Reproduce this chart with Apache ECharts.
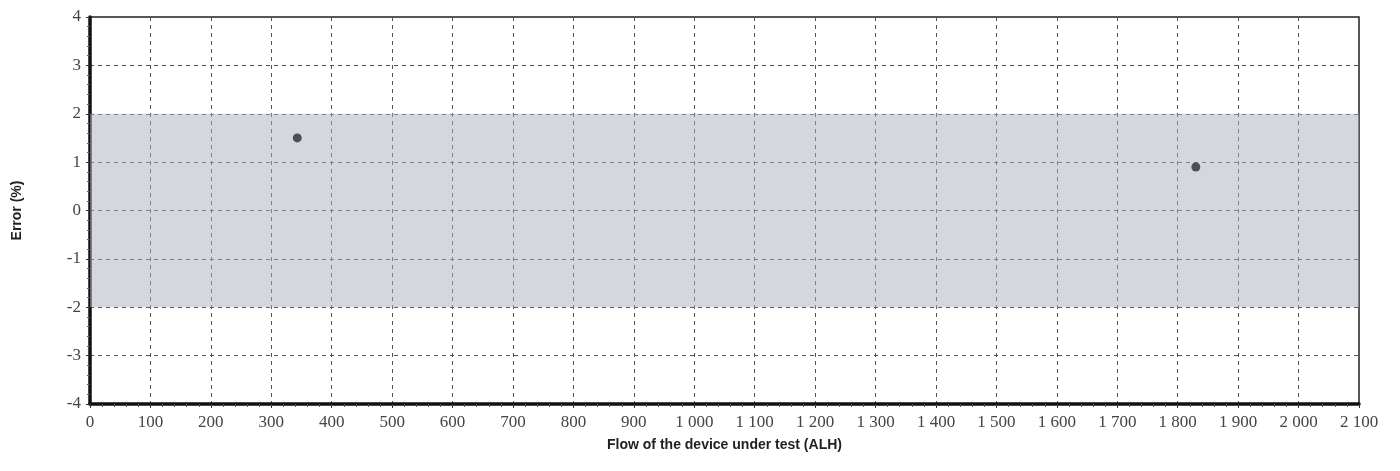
<!DOCTYPE html>
<html>
<head>
<meta charset="utf-8">
<title>Error vs flow</title>
<script src="https://cdn.jsdelivr.net/npm/echarts@6/dist/echarts.min.js"></script>
<style>
  html, body { margin: 0; padding: 0; background: #fff; }
  #chart { width: 1400px; height: 471px; }
</style>
</head>
<body>
<div id="chart"></div>
<script>
// measured points: flow (ALH), error (%)
const flowValues = [343, 1830]
const errorValues = [1.5, 0.9]
// tolerance band (%)
const bandLow = -2
const bandHigh = 2

const points = flowValues.map((f, i) => [f, errorValues[i]])

// 1000 -> "1 000"
function spaced (v) {
  return String(v).replace(/\B(?=(\d{3})+(?!\d))/g, ' ')
}

const chart = echarts.init(document.getElementById('chart'))
chart.setOption({
  animation: false,
  grid: {
    left: 90,
    right: 41,
    top: 17,
    bottom: 67,
    show: true,
    borderColor: '#222',
    borderWidth: 1.5,
  },
  xAxis: {
    type: 'value',
    min: 0,
    max: 2100,
    interval: 100,
    name: 'Flow of the device under test (ALH)',
    nameLocation: 'middle',
    nameGap: 34,
    nameTextStyle: { fontFamily: 'Liberation Sans', fontWeight: 'bold', fontSize: 14, color: '#222' },
    axisLine: { onZero: false, lineStyle: { color: '#111', width: 3.5 } },
    axisTick: { show: true, length: 4, lineStyle: { color: '#333' } },
    minorTick: { show: true, splitNumber: 5, length: 3, lineStyle: { color: '#555' } },
    axisLabel: {
      formatter: spaced,
      fontFamily: 'Liberation Serif',
      fontSize: 17,
      color: '#444',
      margin: 10,
    },
    splitLine: { show: true, lineStyle: { color: '#555', type: [4, 4], width: 1 } },
  },
  yAxis: {
    type: 'value',
    min: -4,
    max: 4,
    interval: 1,
    name: 'Error (%)',
    nameLocation: 'middle',
    nameGap: 66,
    nameRotate: 90,
    nameTextStyle: { fontFamily: 'Liberation Sans', fontWeight: 'bold', fontSize: 14, color: '#222' },
    axisLine: { show: true, onZero: false, lineStyle: { color: '#111', width: 3.5 } },
    axisTick: { show: true, length: 4, lineStyle: { color: '#333' } },
    minorTick: { show: true, splitNumber: 5, length: 3, lineStyle: { color: '#555' } },
    axisLabel: {
      fontFamily: 'Liberation Serif',
      fontSize: 17,
      color: '#444',
      margin: 9,
    },
    splitLine: { show: true, lineStyle: { color: '#555', type: [4, 4], width: 1 } },
  },
  series: [{
    type: 'scatter',
    data: points,
    symbolSize: 9,
    itemStyle: { color: '#2e2e2e' },
    z: 5,
    markArea: {
      silent: true,
      itemStyle: { color: 'rgba(170,176,190,0.5)' },
      data: [[{ yAxis: bandLow }, { yAxis: bandHigh }]],
    },
  }],
})
</script>
</body>
</html>
